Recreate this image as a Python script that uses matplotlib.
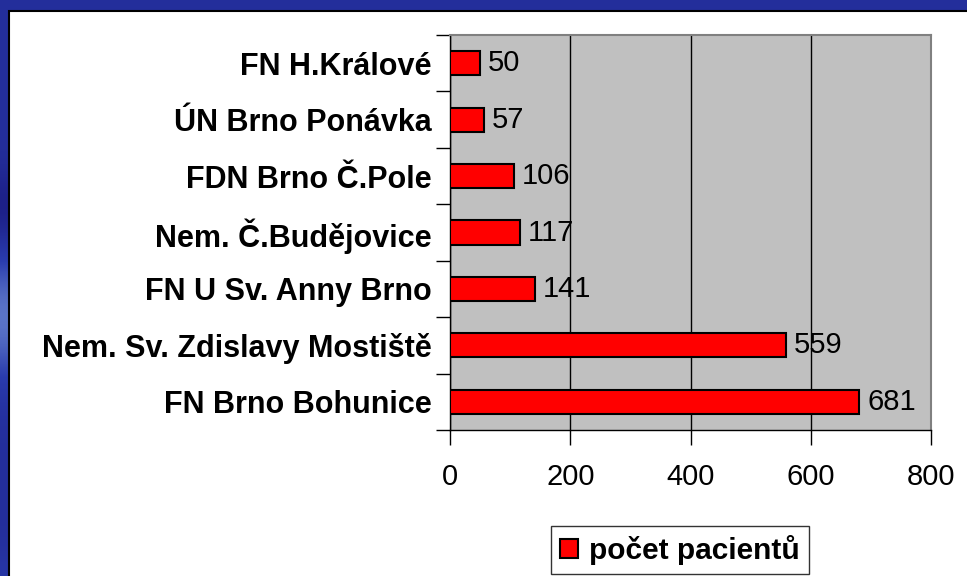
import numpy as np
import matplotlib.pyplot as plt
from matplotlib.patches import Rectangle
from matplotlib.colors import LinearSegmentedColormap

hospitals = ['FN H.Králové', 'ÚN Brno Ponávka', 'FDN Brno Č.Pole', 'Nem. Č.Budějovice',
             'FN U Sv. Anny Brno', 'Nem. Sv. Zdislavy Mostiště', 'FN Brno Bohunice']
patients = [50, 57, 106, 117, 141, 559, 681]
xticks = [0, 200, 400, 600, 800]
series_name = 'počet pacientů'

plt.rcParams['font.family'] = ['Liberation Sans', 'DejaVu Sans']

fig = plt.figure(figsize=(9.67, 5.76), dpi=100)

# blue slide background (dark at top/bottom, lighter band in the middle of the left strip)
bg = fig.add_axes([0, 0, 1, 1])
rows = np.linspace(0, 1, 400)[:, None]
cols = np.linspace(0, 1, 400)[None, :]
shade = 0.3 + 0.1 * np.exp(-(rows ** 2) / 0.003) \
    + 0.5 * np.exp(-((rows - 0.45) ** 2) / 0.012) \
    + 0.3 * np.exp(-((cols - 0.72) ** 2) / 0.004) * np.exp(-(rows ** 2) / 0.002)
shade = shade - 0.22 * np.exp(-((rows - 0.64) ** 2) / 0.004)
cmap = LinearSegmentedColormap.from_list('slide', ['#1a1a80', '#2a3cae', '#7a98d8'])
bg.imshow(shade, cmap=cmap, extent=[0, 1, 1, 0], aspect='auto', vmin=0, vmax=1)
bg.add_patch(Rectangle((9 / 967, -0.01), 1.0, 1 - 11 / 576 + 0.01, facecolor='white',
                       edgecolor='black', linewidth=1.5))
bg.set_xlim(0, 1)
bg.set_ylim(0, 1)
bg.axis('off')

ax = fig.add_axes([450 / 967, 1 - 430 / 576, 481 / 967, 395 / 576])
ax.set_facecolor('#c0c0c0')
y = np.arange(len(hospitals))
bars = ax.barh(y, patients, height=0.43, color='#ff0000', edgecolor='black',
               linewidth=1.5, label=series_name, zorder=3)
for yi, v in zip(y, patients):
    ax.text(v + 13, yi, str(v), va='center', ha='left', fontsize=21, zorder=4)

ax.set_xlim(0, 800)
ax.set_ylim(len(hospitals) - 0.5, -0.5)
ax.set_xticks(xticks)
ax.set_xticklabels([str(t) for t in xticks], fontsize=21)
ax.set_yticks(y)
ax.set_yticklabels(hospitals, fontsize=22, fontweight='bold')
ax.tick_params(axis='y', length=0, pad=13)
ax.set_yticks(np.arange(len(hospitals) + 1) - 0.5, minor=True)
ax.tick_params(axis='y', which='minor', length=10, direction='out', width=1)
ax.tick_params(axis='x', length=11, direction='out', width=1, pad=13)
ax.xaxis.grid(True, color='black', linewidth=1, zorder=1)
ax.set_axisbelow(True)
for s in ['top', 'right']:
    ax.spines[s].set_color('#808080')
    ax.spines[s].set_linewidth(1.5)
for s in ['left', 'bottom']:
    ax.spines[s].set_color('black')
    ax.spines[s].set_linewidth(1)

leg = fig.legend(handles=[bars], labels=[series_name], loc='center',
                 bbox_to_anchor=(680 / 967, 1 - 550 / 576), frameon=True,
                 fancybox=False, handlelength=0.6, handleheight=0.6,
                 handletextpad=0.35, borderpad=0.3,
                 prop={'size': 21.5, 'weight': 'bold'})
leg.get_frame().set_edgecolor('black')
leg.get_frame().set_linewidth(1)

fig.savefig('out.png', dpi=100)
